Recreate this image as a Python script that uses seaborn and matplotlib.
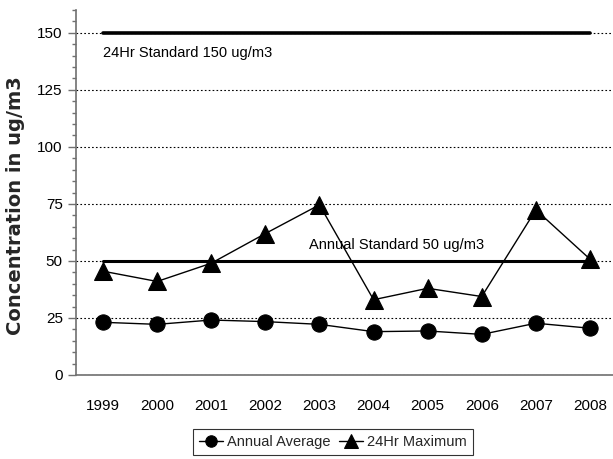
import matplotlib
matplotlib.use("Agg")
import matplotlib.pyplot as plt
from matplotlib.ticker import MultipleLocator, FixedLocator, NullFormatter
import seaborn as sns
import pandas as pd

years = ["1999", "2000", "2001", "2002", "2003", "2004", "2005", "2006", "2007", "2008"]
annual_average = [23.1, 22.2, 24.1, 23.4, 22.2, 19.0, 19.3, 17.8, 22.7, 20.5]
max_24hr = [45.5, 41.0, 49.0, 62.0, 74.6, 33.0, 38.0, 34.4, 72.4, 50.8]
standard_24hr = 150
standard_annual = 50

sns.set_theme(style="white")
plt.rcParams["font.family"] = ["Liberation Sans", "DejaVu Sans"]

pos = list(range(len(years)))
df = pd.DataFrame({"pos": pos, "avg": annual_average, "max": max_24hr,
                   "s24": [standard_24hr] * len(years),
                   "sann": [standard_annual] * len(years)})

fig = plt.figure(figsize=(6.13, 4.59), dpi=100)
ax = fig.add_axes([76 / 613, 1 - 375 / 459, (617 - 76) / 613, (375 - 10) / 459])

# standard lines spanning the first to last year
ends = df.iloc[[0, -1]]
sns.lineplot(data=ends, x="pos", y="s24", ax=ax, color="black", lw=2.6, legend=False)
sns.lineplot(data=ends, x="pos", y="sann", ax=ax, color="black", lw=2.2, legend=False)

sns.lineplot(data=df, x="pos", y="avg", ax=ax, color="black", lw=1.0,
             marker="o", markersize=11, markeredgecolor="black",
             label="Annual Average")
sns.lineplot(data=df, x="pos", y="max", ax=ax, color="black", lw=1.0,
             marker="^", markersize=12.5, markeredgecolor="black",
             label="24Hr Maximum")

ax.text(0, 141, f"24Hr Standard {standard_24hr} ug/m3", fontsize=10.5,
        va="center", ha="left", color="black")
ax.text(3.8, 57, f"Annual Standard {standard_annual} ug/m3", fontsize=10.5,
        va="center", ha="left", color="black")

ax.set_xlim(-0.5, 9.5)
ax.set_ylim(0, 160)

ax.yaxis.set_major_locator(FixedLocator([0, 25, 50, 75, 100, 125, 150]))
ax.yaxis.set_minor_locator(MultipleLocator(5))
ax.grid(axis="y", which="major", linestyle=(0, (1.5, 2)), color="black", lw=0.8)
ax.set_axisbelow(True)

# year labels sit between boundary ticks
ax.xaxis.set_major_locator(FixedLocator([p - 0.5 for p in pos] + [9.5]))
ax.xaxis.set_major_formatter(NullFormatter())
ax.set_xticks(pos, minor=True)
ax.set_xticklabels(years, minor=True)
ax.tick_params(axis="x", which="major", direction="out", length=5, width=1, color="#707070")
ax.tick_params(axis="x", which="minor", length=0, pad=17, labelsize=11, labelcolor="black")
ax.tick_params(axis="y", which="major", direction="out", length=6, width=1,
               color="#707070", labelsize=11, labelcolor="black", left=True)
ax.tick_params(axis="y", which="minor", direction="out", length=3, width=1,
               color="#707070", left=True)

for side in ["top", "right"]:
    ax.spines[side].set_visible(False)
for side in ["left", "bottom"]:
    ax.spines[side].set_color("#707070")
    ax.spines[side].set_linewidth(1.2)

ax.set_xlabel("")
ax.set_ylabel("Concentration in ug/m3", fontsize=14, fontweight="bold",
              family=["DejaVu Sans"])
ax.yaxis.set_label_coords(-0.094, 0.463)

ax.legend(loc="center", bbox_to_anchor=(333 / 613, 1 - 442 / 459), bbox_transform=fig.transFigure,
          ncol=2, frameon=True, fancybox=False, edgecolor="black", fontsize=10.5,
          handlelength=1.6, handletextpad=0.3, columnspacing=0.6, borderpad=0.4,
          markerscale=0.75)
leg = ax.get_legend()
leg.get_frame().set_linewidth(0.8)

fig.savefig("out.png", dpi=100)
